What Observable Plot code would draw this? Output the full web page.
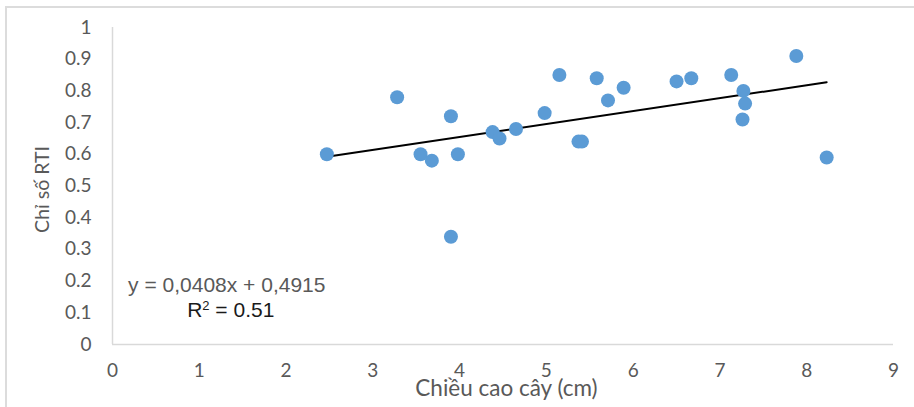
<!DOCTYPE html>
<html>
<head>
<meta charset="utf-8">
<script src="https://cdn.jsdelivr.net/npm/d3@7"></script>
<script src="https://cdn.jsdelivr.net/npm/@observablehq/plot@0.6"></script>
<style>
  html, body { margin: 0; padding: 0; background: #fff; }
  #wrap { position: relative; width: 914px; height: 407px; overflow: hidden; }
  #frame { position: absolute; left: 5px; top: 6px; width: 940px; height: 440px;
           border-top: 2px solid #dcdcdc; border-left: 2px solid #dcdcdc; }
  #chart { position: absolute; left: 0; top: 0; }
</style>
</head>
<body>
<div id="wrap"><div id="frame"></div><div id="chart"></div></div>
<script>
// Plant height (cm) and RTI index
const plantHeight = [2.47, 3.28, 3.55, 3.68, 3.90, 3.90, 3.98, 4.38, 4.46, 4.65, 4.98, 5.15, 5.37, 5.41, 5.58, 5.71, 5.89, 6.50, 6.67, 7.13, 7.27, 7.29, 7.26, 7.88, 8.23];
const rtiIndex    = [0.60, 0.78, 0.60, 0.58, 0.72, 0.34, 0.60, 0.67, 0.65, 0.68, 0.73, 0.85, 0.64, 0.64, 0.84, 0.77, 0.81, 0.83, 0.84, 0.85, 0.80, 0.76, 0.71, 0.91, 0.59];

// Trendline as printed on the chart
const trendSlope = 0.0408;
const trendIntercept = 0.4915;
const equationText = "y = 0,0408x + 0,4915";
const r2Label = "R";
const r2Sup = "2";
const r2Value = " = 0.51";

const xTicks = [0, 1, 2, 3, 4, 5, 6, 7, 8, 9];
const yTicks = [0, 0.1, 0.2, 0.3, 0.4, 0.5, 0.6, 0.7, 0.8, 0.9, 1];
const yTickLabels = ["0", "0.1", "0.2", "0.3", "0.4", "0.5", "0.6", "0.7", "0.8", "0.9", "1"];
const xTitle = "Chiều cao cây (cm)";
const yTitle = "Chỉ số RTI";

const points = plantHeight.map((h, i) => ({x: h, y: rtiIndex[i]}));
const xMin = d3.min(plantHeight), xMax = d3.max(plantHeight);
const trend = [xMin, xMax].map(x => ({x, y: trendSlope * x + trendIntercept}));

const tickFont = "Lato, 'Open Sans', sans-serif";
const eqFont = "'Liberation Sans', Arial, sans-serif";

const chart = Plot.plot({
  width: 914,
  height: 407,
  marginLeft: 112,
  marginRight: 21,
  marginTop: 27,
  marginBottom: 63,
  style: {background: "transparent", fontFamily: tickFont, fontSize: "19px", color: "#595959", overflow: "visible"},
  x: {domain: [0, 9]},
  y: {domain: [0, 1]},
  marks: [
    Plot.ruleY([0], {stroke: "#d9d9d9", strokeWidth: 1.5}),
    Plot.ruleX([0], {stroke: "#d9d9d9", strokeWidth: 1.5}),
    Plot.axisX({ticks: xTicks, tickSize: 0, tickPadding: 19, label: null, fontSize: 19, fill: "#595959"}),
    Plot.axisY({ticks: yTicks, tickFormat: d => yTickLabels[yTicks.indexOf(d)], tickSize: 0, tickPadding: 21, label: null, fontSize: 19, fill: "#595959"}),
    Plot.line(trend, {x: "x", y: "y", stroke: "#000", strokeWidth: 2}),
    Plot.dot(points, {x: "x", y: "y", r: 7, fill: "#5b9bd5", stroke: "none"}),
    Plot.text([equationText], {x: 0.18, y: 0.186, text: d => d, textAnchor: "start", lineAnchor: "middle", fontSize: 21, fontFamily: eqFont, fill: "#595959"}),
    Plot.text([r2Label], {x: 0.86, y: 0.107, text: d => d, textAnchor: "start", lineAnchor: "middle", fontSize: 21, fontFamily: eqFont, fill: "#1a1a1a", className: "r2"}),
    Plot.text([xTitle], {x: 4.54, y: -0.139, text: d => d, textAnchor: "middle", lineAnchor: "middle", fontSize: 22.5, fontFamily: tickFont, fill: "#595959"}),
    Plot.text([yTitle], {x: -0.8, y: 0.489, rotate: -90, text: d => d, textAnchor: "middle", lineAnchor: "middle", fontSize: 19.5, fontFamily: tickFont, fill: "#595959"})
  ]
});
// add superscript "2" and the value to the R² label
d3.select(chart).selectAll("g.r2 text").each(function() {
  const t = d3.select(this);
  t.append("tspan").attr("font-size", 13).attr("dy", -7).text(r2Sup);
  t.append("tspan").attr("dy", 7).text(r2Value);
});
document.getElementById("chart").appendChild(chart);
</script>
</body>
</html>
